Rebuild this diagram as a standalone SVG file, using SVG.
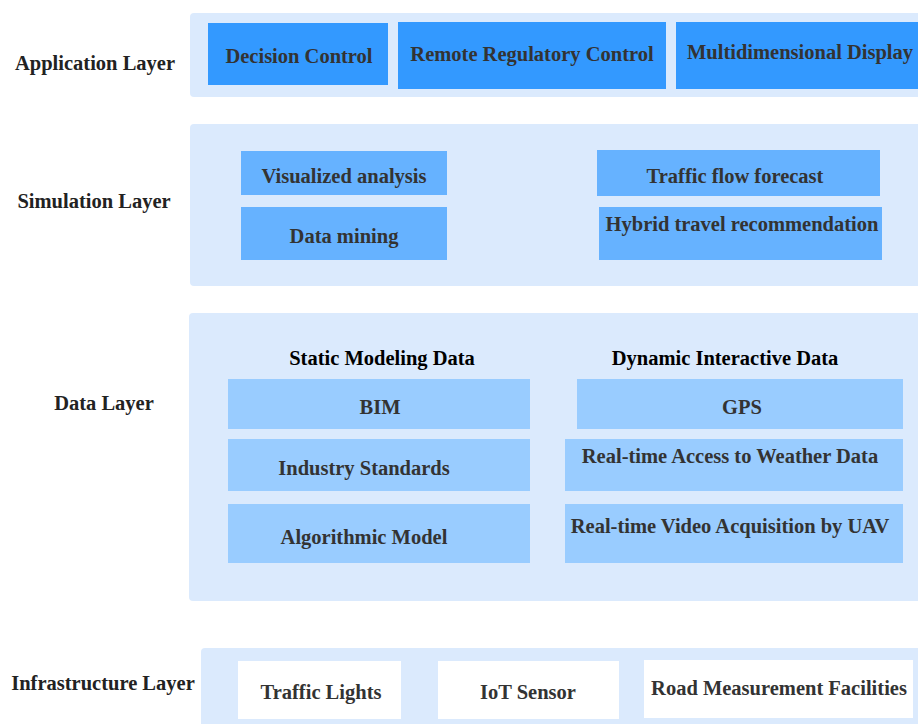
<svg xmlns="http://www.w3.org/2000/svg" width="918" height="724" viewBox="0 0 918 724">
  <style>
    text { font-family: "Liberation Serif", "Times New Roman", serif; font-weight: bold; font-size: 20.5px; fill: #333333; text-anchor: middle; }
    .label { fill: #222222; }
    .head { fill: #000000; font-size: 20.5px; }
    .panel { fill: #dbeafd; }
    .app { fill: #3399ff; }
    .sim { fill: #66b2ff; }
    .data { fill: #99ccff; }
    .infra { fill: #ffffff; }
  </style>

  <!-- layer labels -->
  <g id="labels">
    <text class="label" x="95" y="70">Application Layer</text>
    <text class="label" x="94" y="208">Simulation Layer</text>
    <text class="label" x="104" y="410">Data Layer</text>
    <text class="label" x="103" y="690">Infrastructure Layer</text>
  </g>

  <!-- application layer -->
  <g id="application-layer">
    <rect class="panel" x="190" y="13" width="740" height="84" rx="4"/>
    <g id="decision-control">
      <rect class="app" x="208" y="23" width="180" height="62"/>
      <text x="299" y="63">Decision Control</text>
    </g>
    <g id="remote-regulatory-control">
      <rect class="app" x="398" y="22" width="268" height="67"/>
      <text x="532" y="61">Remote Regulatory Control</text>
    </g>
    <g id="multidimensional-display">
      <rect class="app" x="676" y="22" width="250" height="67"/>
      <text x="800" y="59">Multidimensional Display</text>
    </g>
  </g>

  <!-- simulation layer -->
  <g id="simulation-layer">
    <rect class="panel" x="190" y="124" width="740" height="162" rx="4"/>
    <g id="visualized-analysis">
      <rect class="sim" x="241" y="151" width="206" height="44"/>
      <text x="344" y="183">Visualized analysis</text>
    </g>
    <g id="data-mining">
      <rect class="sim" x="241" y="207" width="206" height="53"/>
      <text x="344" y="243">Data mining</text>
    </g>
    <g id="traffic-flow-forecast">
      <rect class="sim" x="597" y="150" width="283" height="46"/>
      <text x="735" y="183">Traffic flow forecast</text>
    </g>
    <g id="hybrid-travel-recommendation">
      <rect class="sim" x="599" y="207" width="283" height="53"/>
      <text x="742" y="231">Hybrid travel recommendation</text>
    </g>
  </g>

  <!-- data layer -->
  <g id="data-layer">
    <rect class="panel" x="189" y="313" width="741" height="288" rx="4"/>
    <text class="head" x="382" y="365">Static Modeling Data</text>
    <text class="head" x="725" y="365">Dynamic Interactive Data</text>
    <g id="bim">
      <rect class="data" x="228" y="379" width="302" height="50"/>
      <text x="380" y="414">BIM</text>
    </g>
    <g id="industry-standards">
      <rect class="data" x="228" y="439" width="302" height="52"/>
      <text x="364" y="475">Industry Standards</text>
    </g>
    <g id="algorithmic-model">
      <rect class="data" x="228" y="504" width="302" height="59"/>
      <text x="364" y="544">Algorithmic Model</text>
    </g>
    <g id="gps">
      <rect class="data" x="577" y="379" width="326" height="50"/>
      <text x="742" y="414">GPS</text>
    </g>
    <g id="weather-data">
      <rect class="data" x="565" y="439" width="338" height="52"/>
      <text x="730" y="463">Real-time Access to Weather Data</text>
    </g>
    <g id="uav-video">
      <rect class="data" x="565" y="504" width="338" height="59"/>
      <text x="730" y="533">Real-time Video Acquisition by UAV</text>
    </g>
  </g>

  <!-- infrastructure layer -->
  <g id="infrastructure-layer">
    <rect class="panel" x="201" y="648" width="730" height="90" rx="4"/>
    <g id="traffic-lights">
      <rect class="infra" x="238" y="661" width="163" height="58"/>
      <text x="321" y="699">Traffic Lights</text>
    </g>
    <g id="iot-sensor">
      <rect class="infra" x="438" y="661" width="181" height="58"/>
      <text x="528" y="699">IoT Sensor</text>
    </g>
    <g id="road-measurement">
      <rect class="infra" x="644" y="660" width="269" height="58"/>
      <text x="779" y="695">Road Measurement Facilities</text>
    </g>
  </g>

  <!-- the layers are stacked without connectors -->
  <g id="connectors"/>
</svg>
